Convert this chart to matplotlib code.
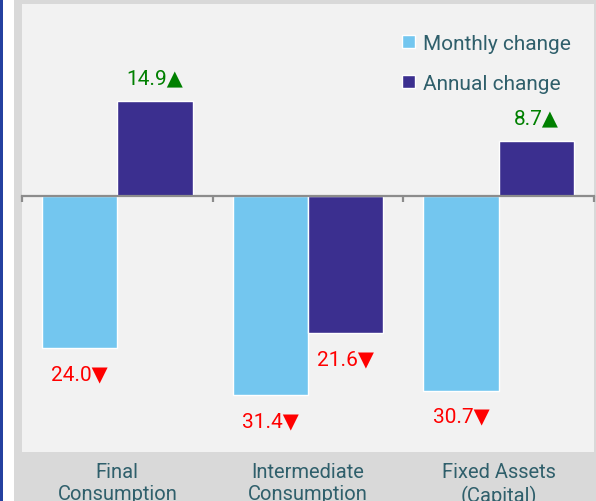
import matplotlib
matplotlib.use("Agg")
import matplotlib.pyplot as plt
from matplotlib.patches import Patch, Rectangle
import numpy as np

categories = ['Final\nConsumption', 'Intermediate\nConsumption', 'Fixed Assets\n(Capital)']
monthly = [-24.0, -31.4, -30.7]
annual = [14.9, -21.6, 8.7]
series_names = ['Monthly change', 'Annual change']

c_month = '#73c6ef'
c_year = '#3b2f8f'
c_text = '#2f5f6b'
fonts = ['Roboto', 'DejaVu Sans']

fig = plt.figure(figsize=(5.96, 5.02), dpi=100, facecolor='#d9d9d9')
# frame pieces around the chart
fig.patches.append(Rectangle((0, 0), 14 / 596, 1, transform=fig.transFigure,
                             facecolor='white', edgecolor='none', zorder=0))
fig.patches.append(Rectangle((0, 0), 3 / 596, 1, transform=fig.transFigure,
                             facecolor='#2440a0', edgecolor='none', zorder=1))

ax = fig.add_axes([22 / 596, 49 / 502, 572 / 596, 448 / 502])
ax.set_facecolor('#f2f2f2')

x = np.arange(len(categories))
w = 0.395
ax.bar(x - w / 2, monthly, w, color=c_month, edgecolor='white', linewidth=1, zorder=2)
ax.bar(x + w / 2, annual, w, color=c_year, edgecolor='white', linewidth=1, zorder=2)


def put_labels(vals, xpos):
    for xi, v in zip(xpos, vals):
        if v >= 0:
            ax.text(xi, v + 3.6, f'{abs(v):.1f}\u25b2', ha='center', va='center',
                    color='#008000', fontsize=15, family=fonts)
        else:
            ax.text(xi, v - 4.0, f'{abs(v):.1f}\u25bc', ha='center', va='center',
                    color='#ff0000', fontsize=15, family=fonts)


put_labels(monthly, x - w / 2)
put_labels(annual, x + w / 2)

ax.set_xlim(-0.5, len(categories) - 0.5)
ax.set_ylim(-40.3, 30.2)
ax.set_yticks([])

# zero line with boundary ticks
for s in ['top', 'right', 'left']:
    ax.spines[s].set_visible(False)
ax.spines['bottom'].set_position(('data', 0))
ax.spines['bottom'].set_color('#8c8c8c')
ax.spines['bottom'].set_linewidth(1.6)
ax.spines['bottom'].set_zorder(3)
ax.set_xticks(np.arange(len(categories) + 1) - 0.5)
ax.tick_params(axis='x', length=4, width=1.6, color='#8c8c8c', labelbottom=False)

# category labels in the grey band under the chart
sec = ax.secondary_xaxis(0)
sec.set_xticks(x)
sec.set_xticklabels(categories, color=c_text, fontsize=14.5, family=fonts, linespacing=1.25)
sec.tick_params(length=0, pad=7)
sec.spines['bottom'].set_visible(False)

handles = [Patch(facecolor=c_month, edgecolor='white', linewidth=1),
           Patch(facecolor=c_year, edgecolor='white', linewidth=1)]
leg = ax.legend(handles, series_names, loc='upper left', bbox_to_anchor=(0.632, 0.975),
                frameon=False, handlelength=0.6, handleheight=0.6,
                handletextpad=0.4, labelspacing=1.0, prop={'family': fonts, 'size': 15})
for t in leg.get_texts():
    t.set_color(c_text)

fig.savefig('out.png', dpi=100, facecolor=fig.get_facecolor())
